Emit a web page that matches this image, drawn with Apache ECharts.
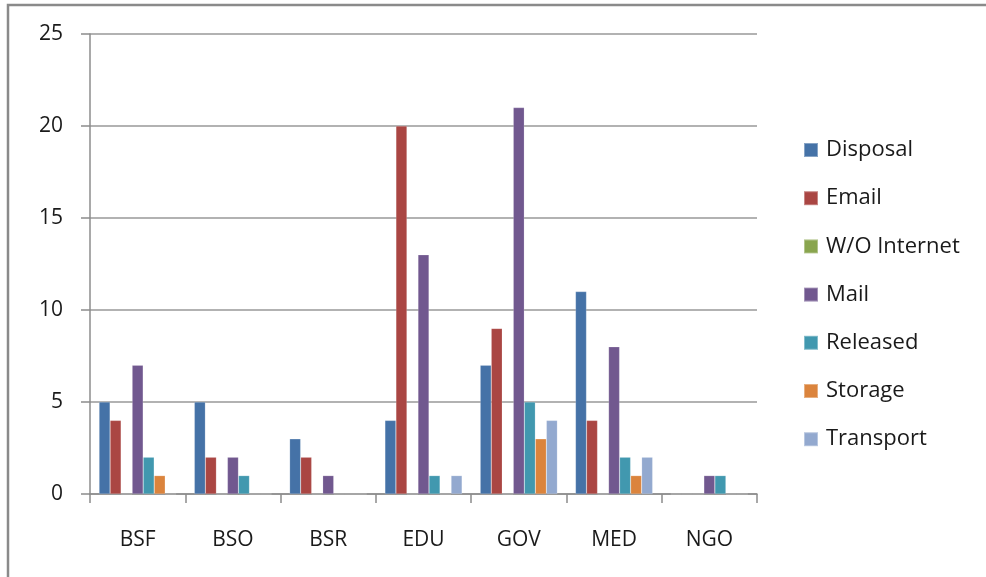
<!DOCTYPE html>
<html>
<head>
<meta charset="utf-8">
<script src="https://cdn.jsdelivr.net/npm/echarts@6/dist/echarts.min.js"></script>
<style>
  html, body { margin: 0; padding: 0; background: #fff; }
  #chart { width: 986px; height: 577px; }
</style>
</head>
<body>
<div id="chart"></div>
<script>
// Sectors along the category axis
const categories = ['BSF', 'BSO', 'BSR', 'EDU', 'GOV', 'MED', 'NGO'];

// Counts per breach type, one value per sector
const disposal   = [5, 5, 3, 4, 7, 11, 0];
const email      = [4, 2, 2, 20, 9, 4, 0];
const woInternet = [0, 0, 0, 0, 0, 0, 0];
const mail       = [7, 2, 1, 13, 21, 8, 1];
const released   = [2, 1, 0, 1, 5, 2, 1];
const storage    = [1, 0, 0, 0, 3, 1, 0];
const transport  = [0, 0, 0, 1, 4, 2, 0];

const seriesNames = ['Disposal', 'Email', 'W/O Internet', 'Mail', 'Released', 'Storage', 'Transport'];
const seriesData  = [disposal, email, woInternet, mail, released, storage, transport];
const colors = ['#4572A7', '#AA4643', '#89A54E', '#71588F', '#4198AF', '#DB843D', '#93A9CF'];

// Value axis ticks
const yMin = 0, yMax = 25, yStep = 5;

const FONT = '"Open Sans", Lato, sans-serif';
const AXIS_GRAY = '#8c8c8c';
const TEXT = '#1a1a1a';

const chart = echarts.init(document.getElementById('chart'), null, { renderer: 'canvas' });

chart.setOption({
  animation: false,
  color: colors,
  textStyle: { fontFamily: FONT },
  grid: { left: 90, right: 229, top: 34, bottom: 83, containLabel: false },
  legend: {
    orient: 'vertical',
    left: 803,
    top: 139,
    padding: 0,
    itemWidth: 14,
    itemHeight: 14,
    itemGap: 26.2,
    icon: 'rect',
    data: seriesNames,
    textStyle: { fontFamily: FONT, fontSize: 22, color: TEXT, lineHeight: 22, padding: [0, 0, 0, 3] }
  },
  xAxis: {
    type: 'category',
    data: categories,
    axisLine: { lineStyle: { color: AXIS_GRAY, width: 1.5 } },
    axisTick: { show: true, length: 9, alignWithLabel: false, lineStyle: { color: AXIS_GRAY, width: 1.5 } },
    axisLabel: { fontFamily: FONT, fontSize: 21, color: TEXT, margin: 36 },
    splitLine: { show: false }
  },
  yAxis: {
    type: 'value',
    min: yMin,
    max: yMax,
    interval: yStep,
    axisLine: { show: true, lineStyle: { color: AXIS_GRAY, width: 1.5 } },
    axisTick: { show: true, length: 9, lineStyle: { color: AXIS_GRAY, width: 1.5 } },
    axisLabel: { fontFamily: FONT, fontSize: 21, color: TEXT, margin: 27 },
    splitLine: { show: true, lineStyle: { color: '#999999', width: 1.5 } }
  },
  series: seriesNames.map((name, i) => ({
    name: name,
    type: 'bar',
    data: seriesData[i],
    barGap: '0%',
    barCategoryGap: '19%',
    itemStyle: { color: colors[i], borderColor: 'rgba(255,255,255,0.35)', borderWidth: 0.5 }
  })),
  graphic: [
    {
      type: 'polyline',
      silent: true,
      shape: { points: [[8, 577], [8, 5], [986, 5]] },
      style: { stroke: '#8a8a8a', lineWidth: 2.5, fill: null }
    }
  ]
});
</script>
</body>
</html>
